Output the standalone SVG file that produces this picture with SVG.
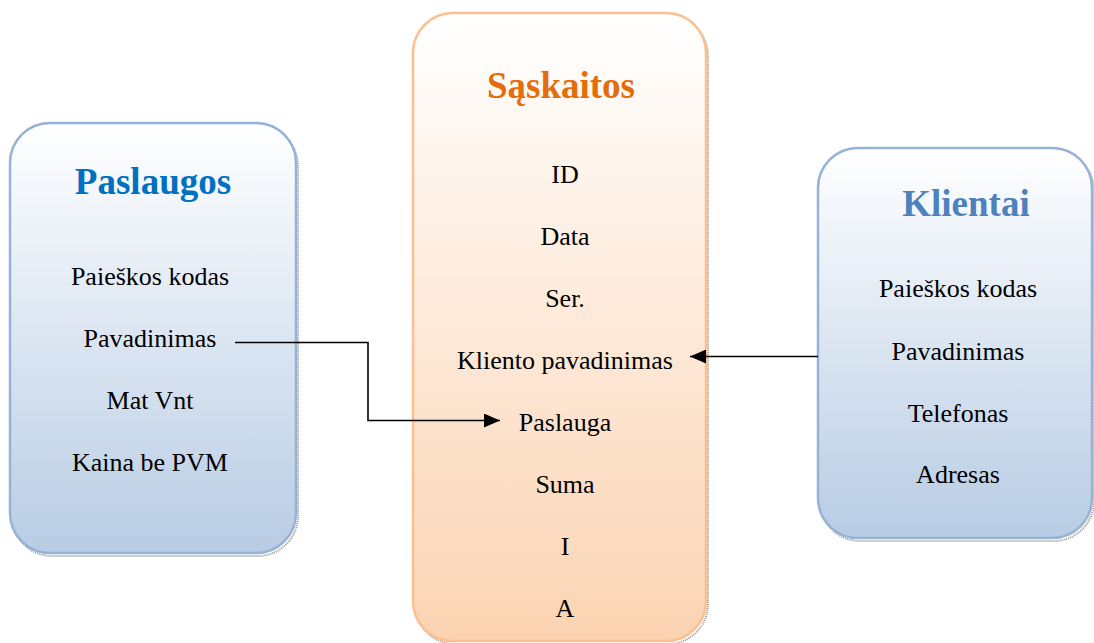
<svg xmlns="http://www.w3.org/2000/svg" width="1094" height="643" viewBox="0 0 1094 643">
  <style>
    .item { font-family: "Liberation Serif", "Times New Roman", serif; font-size: 26px; fill: #000; text-anchor: middle; }
    .title { font-family: "Liberation Serif", "Times New Roman", serif; font-size: 37px; font-weight: bold; text-anchor: middle; }
    .shadow { fill: none; stroke: #9a9a9a; stroke-width: 2; stroke-dasharray: 1 1; }
    .wire { fill: none; stroke: #000; stroke-width: 1.6; }
  </style>
  <defs>
    <linearGradient id="blueFill" x1="0" y1="0" x2="0" y2="1">
      <stop offset="0" stop-color="#ffffff"/>
      <stop offset="1" stop-color="#b8cce4"/>
    </linearGradient>
    <linearGradient id="peachFill" x1="0" y1="0" x2="0" y2="1">
      <stop offset="0" stop-color="#ffffff"/>
      <stop offset="1" stop-color="#fbd3b2"/>
    </linearGradient>
    <marker id="arrow" viewBox="0 0 16 14" refX="16" refY="7" markerWidth="16" markerHeight="14" markerUnits="userSpaceOnUse" orient="auto">
      <path d="M0,0 L16,7 L0,14 Z" fill="#000"/>
    </marker>
  </defs>

  <rect width="1094" height="643" fill="#ffffff"/>

  <!-- Paslaugos -->
  <g id="paslaugos">
    <rect class="shadow" x="12" y="126" width="286" height="430" rx="40"/>
    <rect x="10" y="123" width="286" height="430" rx="40" fill="url(#blueFill)" stroke="#95b3d7" stroke-width="2.5"/>
    <text class="title" x="153" y="194" fill="#0070c0">Paslaugos</text>
    <text class="item" x="150" y="285">Paieškos kodas</text>
    <text class="item" x="150" y="347">Pavadinimas</text>
    <text class="item" x="150" y="409">Mat Vnt</text>
    <text class="item" x="150" y="471">Kaina be PVM</text>
  </g>

  <!-- Sąskaitos -->
  <g id="saskaitos">
    <rect class="shadow" x="415" y="16" width="293" height="628" rx="40"/>
    <rect x="413" y="13" width="293" height="628" rx="40" fill="url(#peachFill)" stroke="#fac08f" stroke-width="2.5"/>
    <text class="title" x="561" y="98" fill="#e46c0a">Sąskaitos</text>
    <text class="item" x="565" y="183">ID</text>
    <text class="item" x="565" y="245">Data</text>
    <text class="item" x="565" y="307">Ser.</text>
    <text class="item" x="565" y="369">Kliento pavadinimas</text>
    <text class="item" x="565" y="431">Paslauga</text>
    <text class="item" x="565" y="493">Suma</text>
    <text class="item" x="565" y="555">I</text>
    <text class="item" x="565" y="617">A</text>
  </g>

  <!-- Klientai -->
  <g id="klientai">
    <rect class="shadow" x="820" y="151" width="274" height="390" rx="40"/>
    <rect x="818" y="148" width="274" height="390" rx="40" fill="url(#blueFill)" stroke="#95b3d7" stroke-width="2.5"/>
    <text class="title" x="966" y="216" fill="#4f81bd">Klientai</text>
    <text class="item" x="958" y="297">Paieškos kodas</text>
    <text class="item" x="958" y="360">Pavadinimas</text>
    <text class="item" x="958" y="422">Telefonas</text>
    <text class="item" x="958" y="483">Adresas</text>
  </g>

  <!-- Connectors -->
  <g id="connectors">
    <polyline class="wire" points="235,342.5 368,342.5 368,420.5 500,420.5" marker-end="url(#arrow)"/>
    <line class="wire" x1="818" y1="356.5" x2="690" y2="356.5" marker-end="url(#arrow)"/>
  </g>
</svg>
